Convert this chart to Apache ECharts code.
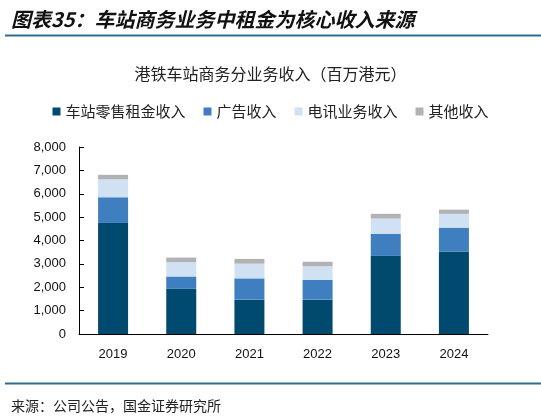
<!DOCTYPE html>
<html>
<head>
<meta charset="utf-8">
<script src="https://cdn.jsdelivr.net/npm/echarts@6/dist/echarts.min.js"></script>
<style>
  html, body { margin: 0; padding: 0; background: #fff; }
  #chart { width: 541px; height: 416px; }
</style>
</head>
<body>
<div id="chart"></div>
<script>
// 年份
var years = ['2019', '2020', '2021', '2022', '2023', '2024'];
// 各业务收入（百万港元）
var retailRent = [4750, 1930, 1470, 1470, 3340, 3530];
var advertising = [1100, 530, 910, 850, 950, 1020];
var telecom = [770, 610, 630, 580, 650, 590];
var others = [190, 200, 200, 190, 200, 180];

var seriesNames = ['车站零售租金收入', '广告收入', '电讯业务收入', '其他收入'];
var colors = ['#004a70', '#3f7fbf', '#cfe1f2', '#b2b2b2'];

var cjk = '"Noto Sans CJK SC", sans-serif';
var latin = '"Liberation Sans", Arial, sans-serif';

var chart = echarts.init(document.getElementById('chart'));

function bar(name, data, i) {
  return {
    name: name,
    type: 'bar',
    stack: 'total',
    data: data,
    barWidth: 30,
    itemStyle: { color: colors[i] }
  };
}

chart.setOption({
  animation: false,
  title: [
    {
      text: '图表35：车站商务业务中租金为核心收入来源',
      left: 6, top: 4,
      textStyle: { fontFamily: cjk, fontSize: 20, fontWeight: 'bold', fontStyle: 'italic', color: '#111' }
    },
    {
      text: '港铁车站商务分业务收入（百万港元）',
      left: 'center', top: 61,
      textStyle: { fontFamily: cjk, fontSize: 16, fontWeight: 'normal', color: '#222' }
    },
    {
      text: '来源：公司公告，国金证券研究所',
      left: 6, top: 394,
      textStyle: { fontFamily: cjk, fontSize: 14, fontWeight: 'normal', color: '#222' }
    }
  ],
  graphic: [
    { type: 'rect', shape: { x: 5, y: 34.5, width: 536, height: 2 }, style: { fill: '#2f6b8f' } },
    { type: 'rect', shape: { x: 5, y: 382.5, width: 536, height: 2 }, style: { fill: '#2f6b8f' } }
  ],
  legend: {
    data: seriesNames,
    top: 99, left: 'center',
    itemWidth: 8, itemHeight: 8, itemGap: 18,
    icon: 'rect',
    textStyle: { fontFamily: cjk, fontSize: 15, color: '#222' }
  },
  grid: { left: 79, right: 53, top: 147, bottom: 82 },
  xAxis: {
    type: 'category',
    data: years,
    axisLine: { lineStyle: { color: '#000', width: 1 } },
    axisTick: { inside: true, length: 5, lineStyle: { color: '#000' } },
    axisLabel: { fontFamily: latin, fontSize: 13, color: '#111', margin: 14 }
  },
  yAxis: {
    type: 'value',
    min: 0, max: 8000, interval: 1000,
    splitLine: { show: false },
    axisLine: { show: true, lineStyle: { color: '#000', width: 1 } },
    axisTick: { show: true, inside: true, length: 5, lineStyle: { color: '#000' } },
    axisLabel: {
      fontFamily: latin, fontSize: 13, color: '#111', margin: 13,
      formatter: function (v) { return v.toLocaleString('en-US'); }
    }
  },
  series: [
    bar(seriesNames[0], retailRent, 0),
    bar(seriesNames[1], advertising, 1),
    bar(seriesNames[2], telecom, 2),
    bar(seriesNames[3], others, 3)
  ]
});
</script>
</body>
</html>
